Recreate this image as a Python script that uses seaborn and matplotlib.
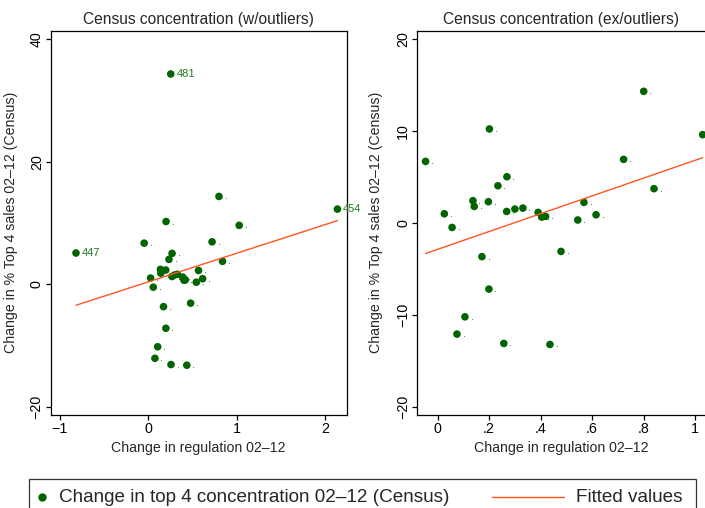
import numpy as np
import pandas as pd
import matplotlib
matplotlib.use("Agg")
import matplotlib.pyplot as plt
import seaborn as sns
from matplotlib.lines import Line2D
from matplotlib.patches import Rectangle

# ---- data ----
reg_change = [-0.047, 0.026, 0.056, 0.137, 0.142, 0.197, 0.201, 0.234, 0.269, 0.268,
              0.300, 0.331, 0.390, 0.404, 0.419, 0.544, 0.568, 0.615, 0.722, 0.800,
              0.840, 1.029, 0.172, 0.479, 0.199, 0.106, 0.075, 0.257, 0.436]
conc_change = [6.71, 1.01, -0.48, 2.43, 1.81, 2.32, 10.24, 4.06, 5.04, 1.26,
               1.52, 1.63, 1.16, 0.65, 0.72, 0.33, 2.25, 0.90, 6.93, 14.34,
               3.74, 9.62, -3.66, -3.09, -7.19, -10.21, -12.09, -13.11, -13.22]
out_reg = [0.254, -0.819, 2.141]
out_conc = [34.33, 5.10, 12.27]
out_ids = ["481", "447", "454"]

left_xticks = [-1, 0, 1, 2]
left_xlabels = ["\u22121", "0", "1", "2"]
left_yticks = [-20, 0, 20, 40]
left_ylabels = ["\u221220", "0", "20", "40"]
right_xticks = [0, 0.2, 0.4, 0.6, 0.8, 1.0]
right_xlabels = ["0", ".2", ".4", ".6", ".8", "1"]
right_yticks = [-20, -10, 0, 10, 20]
right_ylabels = ["\u221220", "\u221210", "0", "10", "20"]

df_ex = pd.DataFrame({"reg": reg_change, "conc": conc_change, "lab": ["."] * len(reg_change)})
df_out = pd.DataFrame({"reg": out_reg, "conc": out_conc, "lab": out_ids})
df_all = pd.concat([df_ex, df_out], ignore_index=True)

# ---- style ----
sns.set_theme(style="ticks")
plt.rcParams['font.family'] = ['Liberation Sans', 'DejaVu Sans']
plt.rcParams['axes.edgecolor'] = '#000000'
plt.rcParams['axes.linewidth'] = 0.9
plt.rcParams['xtick.color'] = '#000000'
plt.rcParams['ytick.color'] = '#000000'

MK = '#006400'
LAB = '#1f7a1f'
LINE = '#ff5522'

fig = plt.figure(figsize=(7.05, 5.08), dpi=100)
W, H = 705, 508
bottom = 1 - 415 / H
height = (415 - 30.7) / H
axL = fig.add_axes([50.7 / W, bottom, 296 / W, height])
axR = fig.add_axes([417.3 / W, bottom, (W - 417.3) / W, height])


def draw(ax, df):
    sns.scatterplot(data=df, x="reg", y="conc", ax=ax, color=MK, s=30,
                    edgecolor='none', linewidth=0, zorder=3, legend=False)
    sns.regplot(data=df, x="reg", y="conc", ax=ax, scatter=False, ci=None,
                truncate=True, line_kws=dict(color=LINE, lw=1.0, zorder=4))
    for xv, yv, lb in zip(df["reg"], df["conc"], df["lab"]):
        ax.annotate(lb, (xv, yv), xytext=(4, 0), textcoords='offset points',
                    ha='left', va='center', fontsize=8, color=LAB, zorder=5)


draw(axL, df_all)
draw(axR, df_ex)

axL.set_xlim(-1.105, 2.246)
axL.set_ylim(-21.35, 41.4)
axR.set_xlim(-0.079, 1.038)
axR.set_ylim(-20.9, 20.94)

for ax, xt, xl, yt, yl, title in [
        (axL, left_xticks, left_xlabels, left_yticks, left_ylabels,
         "Census concentration (w/outliers)"),
        (axR, right_xticks, right_xlabels, right_yticks, right_ylabels,
         "Census concentration (ex/outliers)")]:
    ax.set_xticks(xt)
    ax.set_xticklabels(xl, fontsize=10.3)
    ax.set_yticks(yt)
    ax.set_yticklabels(yl, fontsize=10.3, rotation=90, va='center')
    ax.tick_params(axis='both', direction='out', length=3.5, width=0.9, pad=1.5)
    ax.set_xlabel("Change in regulation 02\u201312", fontsize=10.2)
    ax.set_ylabel("Change in % Top 4 sales 02\u201312 (Census)", fontsize=10.2)
    ax.set_title(title, fontsize=11.2, pad=4.5)
    for s in ax.spines.values():
        s.set_visible(True)
        s.set_color('#000000')
        s.set_linewidth(0.9)

axR.spines['right'].set_visible(False)
axL.yaxis.set_label_coords(-0.110, 0.5)
axR.yaxis.set_label_coords(-0.119, 0.5)
axL.xaxis.set_label_coords(0.5, -0.068)
axR.xaxis.set_label_coords(0.5, -0.068)

# ---- legend ----
fig.add_artist(Rectangle((29.4 / W, -0.05), (696 - 29.4) / W, 0.05 + (508 - 479) / H,
                         transform=fig.transFigure, fill=False, edgecolor='#333333',
                         linewidth=0.9, clip_on=False))
ly = 1 - 497 / H
fig.add_artist(Line2D([42 / W], [ly], transform=fig.transFigure, marker='o',
                      markersize=6, color=MK, markeredgewidth=0, linestyle='none'))
fig.text(58.7 / W, ly, "Change in top 4 concentration 02\u201312 (Census)",
         fontsize=13.6, va='center', ha='left')
fig.add_artist(Line2D([492.5 / W, 564 / W], [ly, ly], transform=fig.transFigure,
                      color=LINE, lw=1.0))
fig.text(576 / W, ly, "Fitted values", fontsize=13.6, va='center', ha='left')

fig.savefig("out.png", dpi=100)
